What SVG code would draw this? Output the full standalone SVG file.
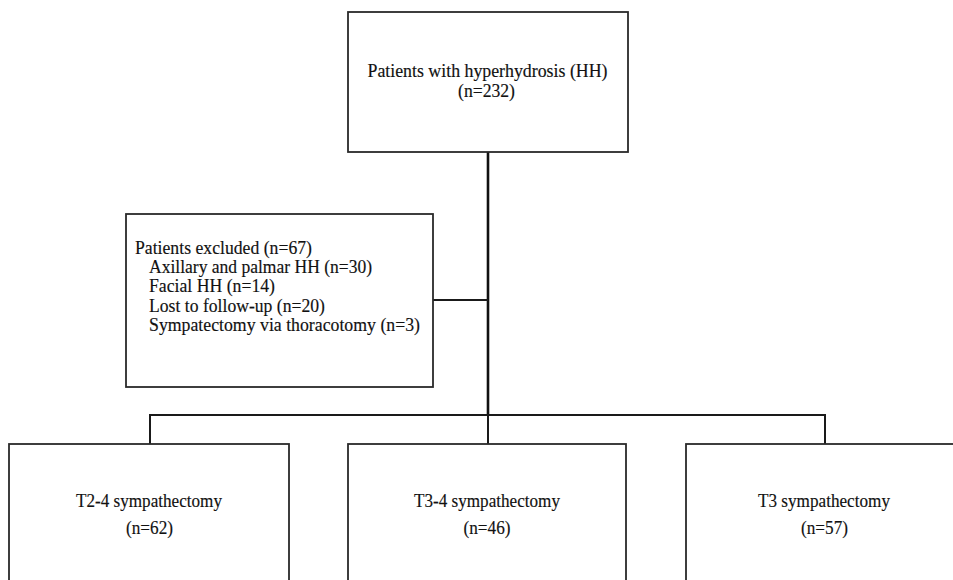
<svg xmlns="http://www.w3.org/2000/svg" width="953" height="580" viewBox="0 0 953 580">
<style>
.box{fill:#fff;stroke:#2a2a2a;stroke-width:1.8}
.ln{fill:none;stroke:#1a1a1a;stroke-width:2}
.main{fill:none;stroke:#111;stroke-width:2.6}
text{font-family:"Liberation Serif","Times New Roman",serif;font-size:18px;fill:#111;stroke:#111;stroke-width:0.15}
.c{text-anchor:middle}
</style>
<rect width="953" height="580" fill="#fff"/>
<g id="connectors">
<path class="main" d="M488,152 V416"/>
<path class="ln" d="M433,300 H488"/>
<path class="ln" d="M150,444 V415 H825 V444"/>
<path class="ln" d="M488,415 V444"/>
</g>
<g id="n-all">
<rect class="box" x="348" y="12" width="280" height="140"/>
<text class="c" x="487.5" y="77" textLength="240" lengthAdjust="spacingAndGlyphs">Patients  with  hyperhydrosis  (HH)</text>
<text class="c" x="486.5" y="96.5" textLength="57" lengthAdjust="spacingAndGlyphs">(n=232)</text>
</g>
<g id="n-excluded">
<rect class="box" x="126" y="214" width="307" height="173"/>
<text x="135" y="254" textLength="177" lengthAdjust="spacingAndGlyphs">Patients excluded (n=67)</text>
<text x="149" y="273" textLength="223" lengthAdjust="spacingAndGlyphs">Axillary and palmar HH (n=30)</text>
<text x="149" y="292" textLength="126" lengthAdjust="spacingAndGlyphs">Facial HH (n=14)</text>
<text x="149" y="312" textLength="176" lengthAdjust="spacingAndGlyphs">Lost to follow-up  (n=20)</text>
<text x="149" y="331" textLength="271" lengthAdjust="spacingAndGlyphs">Sympatectomy via thoracotomy (n=3)</text>
</g>
<g id="n-t24">
<rect class="box" x="9" y="444" width="280" height="150"/>
<text class="c" x="149" y="507" textLength="146" lengthAdjust="spacingAndGlyphs">T2-4 sympathectomy</text>
<text class="c" x="149.5" y="534" textLength="47" lengthAdjust="spacingAndGlyphs">(n=62)</text>
</g>
<g id="n-t34">
<rect class="box" x="348" y="444" width="278" height="150"/>
<text class="c" x="487" y="507" textLength="146" lengthAdjust="spacingAndGlyphs">T3-4 sympathectomy</text>
<text class="c" x="487" y="534" textLength="47" lengthAdjust="spacingAndGlyphs">(n=46)</text>
</g>
<g id="n-t3">
<rect class="box" x="686" y="444" width="278" height="150"/>
<text class="c" x="824" y="507" textLength="132" lengthAdjust="spacingAndGlyphs">T3 sympathectomy</text>
<text class="c" x="824.5" y="534" textLength="47" lengthAdjust="spacingAndGlyphs">(n=57)</text>
</g>
</svg>
